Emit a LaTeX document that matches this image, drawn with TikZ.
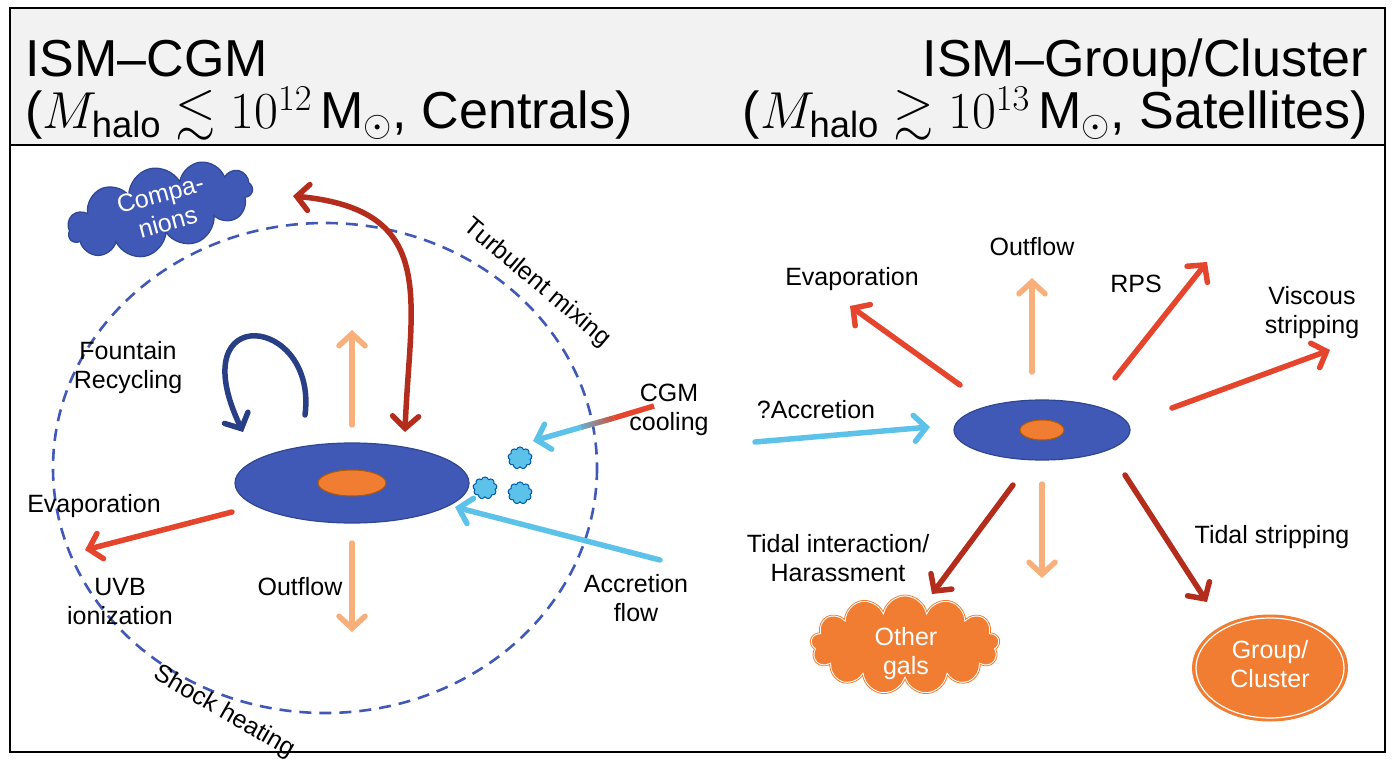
\documentclass[tikz,border=0pt]{standalone}
\usepackage{fix-cm}
\usepackage{fontspec}
\usepackage{amssymb}
\setmainfont{Liberation Sans}
\usetikzlibrary{arrows.meta,shapes.symbols,shapes.geometric,calc}
\definecolor{dblue}{HTML}{4058B6}
\definecolor{dborder}{HTML}{2F4790}
\definecolor{orng}{HTML}{F07D32}
\definecolor{lorng}{HTML}{F8AF7A}
\definecolor{dred}{HTML}{B32C1C}
\definecolor{red2}{HTML}{E5452C}
\definecolor{lblue}{HTML}{5DC2EA}
\definecolor{navy}{HTML}{283F86}
\definecolor{hdr}{HTML}{F2F2F2}
\begin{document}
\begin{tikzpicture}[x=1pt,y=-1pt,
  arr/.style={line width=5.5pt,line cap=round,-{Straight Barb[length=12pt,width=26pt,line cap=round]}},
  lab/.style={font=\fontsize{25}{29}\selectfont,align=center,inner sep=0pt},
  head/.style={font=\fontsize{52}{58}\selectfont,inner sep=0pt},
  disk/.style={ellipse,fill=dblue,draw=dborder,line width=1.2pt},
  core/.style={ellipse,fill=orng,draw=orange!70!black,line width=1pt},
  puff/.style={cloud,cloud puffs=9,fill=lblue,draw=teal!70!blue,line width=1pt,minimum width=24pt,minimum height=22pt,inner sep=0pt}]
\useasboundingbox (0,0) rectangle (1395,759);
\fill[hdr] (10,8) rectangle (1385,145);
\draw[line width=1.5pt] (10,8) rectangle (1385,752);
\draw[line width=1.5pt] (10,145) -- (1385,145);
% headers
\node[head,anchor=base west] (h1) at (25,77) {ISM–CGM};
\node[head,anchor=base west] (h2) at (25,129) {($M_{\mathrm{halo}}\lesssim10^{12}\,\mathrm{M}_\odot$, Centrals)};
\node[head,anchor=base east] (h3) at (1368,77) {ISM–Group/Cluster};
\node[head,anchor=base east] (h4) at (1368,129) {($M_{\mathrm{halo}}\gtrsim10^{13}\,\mathrm{M}_\odot$, Satellites)};
% ---------- left ----------
\draw[dblue,line width=2.6pt,dash pattern=on 12pt off 8pt] (325,468) ellipse [x radius=272,y radius=245];
\node[disk,minimum width=234pt,minimum height=80pt] (gal) at (352,483) {};
\node[core,minimum width=68pt,minimum height=26pt] (gcore) at (352,483) {};
\node[cloud,cloud puffs=11,aspect=2.3,fill=dblue,draw=dborder,line width=1.2pt,rotate=15,minimum width=190pt,minimum height=85pt,inner sep=0pt] (comp) at (160,210) {};
\node[lab,text=white,rotate=15] (comptxt) at (164,208) {Compa-\\nions};
\coordinate (rA) at (405,432);
\coordinate (rB) at (293,196);
\draw[dred,line width=5.5pt,{Straight Barb[length=12pt,width=26pt,line cap=round]}-{Straight Barb[length=12pt,width=26pt,line cap=round]},line cap=round] (rB) .. controls (440,210) and (410,300) .. (rA);
\coordinate (fA) at (305,415);
\coordinate (fB) at (243,432);
\draw[navy,arr] (fA) .. controls (318,315) and (180,300) .. (fB);
\node[lab] (fount) at (128,368) {Fountain\\Recycling};
\coordinate (ou1) at (352,425); \coordinate (ou2) at (352,330);
\draw[lorng,arr] (ou1) -- (ou2);
\coordinate (od1) at (352,543); \coordinate (od2) at (352,632);
\draw[lorng,arr] (od1) -- (od2);
\node[lab] (outl) at (300,587) {Outflow};
\coordinate (ev1) at (232,512); \coordinate (ev2) at (85,550);
\draw[red2,arr] (ev1) -- (ev2);
\node[lab] (evl) at (94,506) {Evaporation};
\node[lab] (uvb) at (120,602) {UVB\\ionization};
\coordinate (ac1) at (660,560); \coordinate (ac2) at (455,507);
\draw[lblue,arr] (ac1) -- (ac2);
\node[lab] (acl) at (636,598) {Accretion\\flow};
\coordinate (cg1) at (654,406); \coordinate (cgx) at (614,418); \coordinate (cgm) at (582,427); \coordinate (cg2) at (533,441);
\draw[red2,line width=5.5pt] (cg1) -- (cgx);
\draw[lblue,arr] (cgm) -- (cg2);
\foreach \i in {0,...,9}{
  \pgfmathsetmacro{\pc}{100-\i*10}
  \draw[line width=5.5pt,color=red2!\pc!lblue!75!gray] ($(cgx)!\i/10!(cgm)$) -- ($(cgx)!\i/10+0.12!(cgm)$);
}
\node[lab] (cgl) at (669,410) {CGM\\cooling};
\node[puff] (p1) at (520,458) {};
\node[puff] (p2) at (485,488) {};
\node[puff] (p3) at (520,493) {};
\node[lab,rotate=-40] (turb) at (537,283) {Turbulent mixing};
\node[lab,rotate=-30] (shock) at (224,712) {Shock heating};
% ---------- right ----------
\node[disk,minimum width=176pt,minimum height=60pt] (sat) at (1042,430) {};
\node[core,minimum width=44pt,minimum height=20pt] (score) at (1042,430) {};
\coordinate (a1) at (1032,372); \coordinate (a2) at (1032,278);
\draw[lorng,arr] (a1) -- (a2);
\node[lab] (r1) at (1032,247) {Outflow};
\coordinate (b1) at (960,385); \coordinate (b2) at (850,306);
\draw[red2,arr] (b1) -- (b2);
\node[lab] (r2) at (852,279) {Evaporation};
\coordinate (c1) at (1115,378); \coordinate (c2) at (1207,262);
\draw[red2,arr] (c1) -- (c2);
\node[lab] (r3) at (1136,284) {RPS};
\coordinate (d1) at (1172,408); \coordinate (d2) at (1330,350);
\draw[red2,arr] (d1) -- (d2);
\node[lab] (r4) at (1312,313) {Viscous\\stripping};
\coordinate (e1) at (755,442); \coordinate (e2) at (930,427);
\draw[lblue,arr] (e1) -- (e2);
\node[lab] (r5) at (816,410) {?Accretion};
\coordinate (f1) at (1013,485); \coordinate (f2) at (932,594);
\draw[dred,arr] (f1) -- (f2);
\node[lab] (r6) at (838,558) {Tidal interaction/\\Harassment};
\coordinate (g1) at (1042,484); \coordinate (g2) at (1042,578);
\draw[lorng,arr] (g1) -- (g2);
\coordinate (k1) at (1125,475); \coordinate (k2) at (1207,602);
\draw[dred,arr] (k1) -- (k2);
\node[lab] (r7) at (1272,537) {Tidal stripping};
\node[cloud,cloud puffs=13,aspect=2.2,fill=orng,draw=white,double=orng,double distance=0.8pt,line width=1pt,minimum width=190pt,minimum height=100pt,inner sep=0pt] (og) at (905,645) {};
\node[lab,text=white] (ogt) at (906,654) {Other\\gals};
\node[ellipse,fill=orng,draw=orng,line width=1pt,minimum width=155pt,minimum height=106pt] (gc) at (1270,668) {};
\draw[white,line width=1.2pt] (1270,668) ellipse [x radius=74,y radius=50];
\node[lab,text=white] (gct) at (1270,664) {Group/\\Cluster};
\end{tikzpicture}
\end{document}
